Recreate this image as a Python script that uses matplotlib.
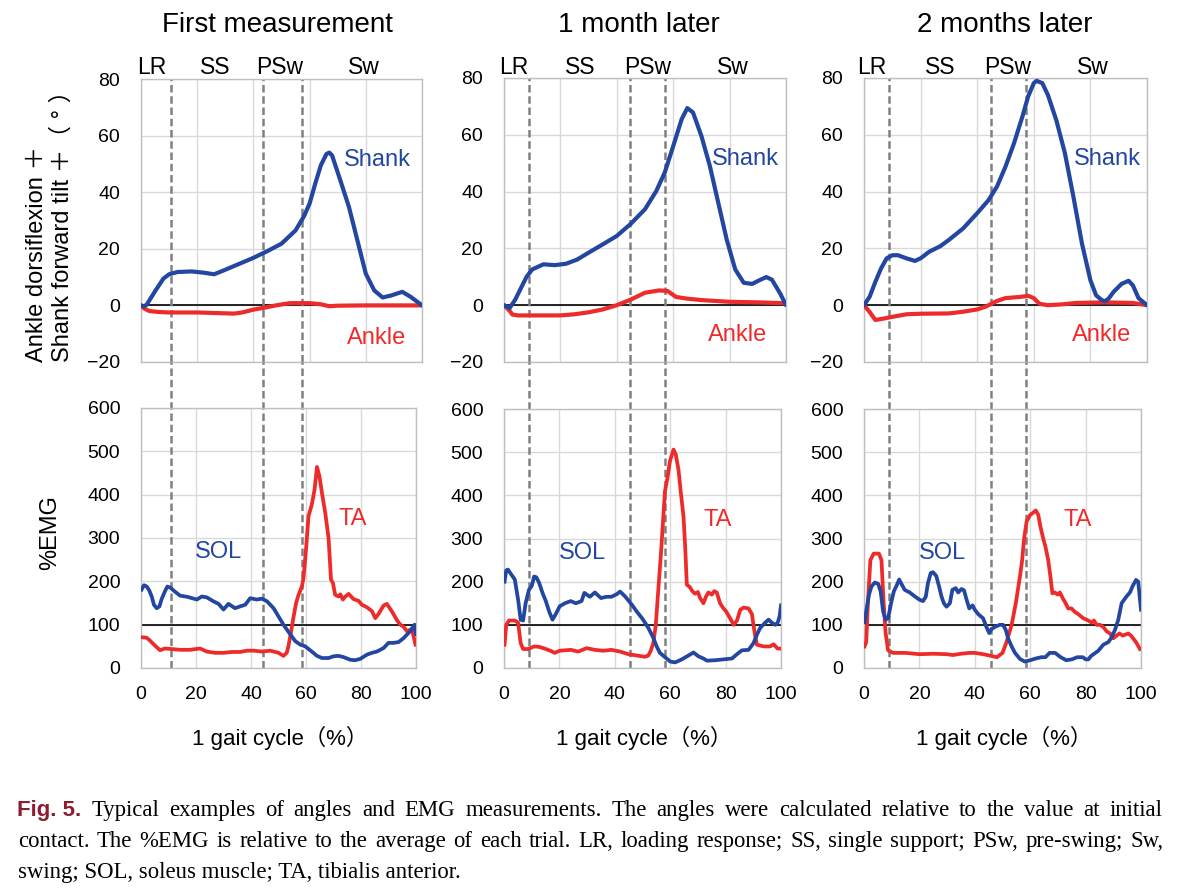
import matplotlib
matplotlib.use('Agg')
import matplotlib.pyplot as plt
import matplotlib.transforms as mtransforms
from matplotlib.lines import Line2D

# ---------------- DATA ----------------
titles = ["First measurement", "1 month later", "2 months later"]
phase_names = ["LR", "SS", "PSw", "Sw"]
# phase boundaries (% gait cycle)
phase_bounds = [[10.9, 44.4, 58.5], [9.0, 45.5, 58.1], [9.0, 45.8, 58.5]]

angle_ticks = [-20, 0, 20, 40, 60, 80]
emg_ticks = [0, 100, 200, 300, 400, 500, 600]
x_ticks = [0, 20, 40, 60, 80, 100]

# Shank forward tilt (deg)
shank1_x = [0, 1, 2, 5, 8, 10, 13, 18, 22, 26, 30, 35, 40, 45, 50, 55, 58, 60, 62, 64, 66, 67, 68, 71, 74, 77, 80, 83, 86, 89, 93, 96, 100]
shank1_y = [0, -0.3, 0.2, 5, 9.5, 11, 11.8, 12, 11.6, 11, 12.6, 14.7, 16.8, 19.2, 21.8, 26.5, 31.5, 36, 43, 49.5, 53.5, 54, 53, 44, 34.8, 23, 11.2, 5.3, 2.8, 3.5, 4.8, 3, 0]
shank2_x = [0, 2, 4, 6, 8, 10, 14, 18, 22, 26, 30, 35, 40, 45, 50, 54, 57, 60, 63, 65, 67, 70, 73, 76, 79, 82, 85, 88, 91, 93, 95, 98, 100]
shank2_y = [0, -1, 2, 6, 10, 12.6, 14.4, 14.1, 14.6, 16.1, 18.5, 21.4, 24.4, 28.7, 33.8, 40.2, 46.7, 56, 65.5, 69.4, 67.9, 59.6, 49, 36, 23, 12.6, 7.9, 7.5, 9, 9.9, 9, 4, 0]
shank3_x = [0, 2, 4, 6, 8, 10, 12, 15, 18, 20, 23, 27, 30, 35, 40, 44, 47, 50, 53, 56, 58, 60, 61, 63, 65, 68, 71, 74, 77, 80, 82, 84, 85.2, 86.5, 88.2, 91, 93.5, 95, 97, 100]
shank3_y = [0, 3, 8.2, 12.9, 16.5, 17.6, 17.6, 16.5, 15.6, 16.5, 18.8, 20.8, 23, 27, 32.4, 37, 41.8, 48.8, 57, 66.5, 73.5, 78.2, 79, 78.2, 74, 65, 53.5, 38.2, 21.8, 8.8, 3.5, 1.8, 1.4, 2.4, 4.7, 7.5, 8.6, 7, 2.5, 0]

# Ankle dorsiflexion (deg)
ankle1_x = [0, 1, 3, 6, 10, 20, 30, 33, 36, 40, 44, 48, 53, 57, 60, 64, 67, 70, 80, 90, 100]
ankle1_y = [0, -1, -2, -2.3, -2.5, -2.5, -2.8, -2.9, -2.5, -1.5, -0.8, 0, 0.8, 0.8, 0.8, 0.4, -0.3, -0.1, 0, 0, 0]
ankle2_x = [0, 2, 3, 5, 20, 25, 30, 35, 40, 45, 50, 55, 58, 61, 65, 70, 80, 90, 100]
ankle2_y = [0, -2, -3.3, -3.6, -3.6, -3.2, -2.5, -1.5, 0, 2, 4.4, 5.2, 5, 2.9, 2.3, 1.8, 1.2, 1, 0.7]
ankle3_x = [0, 2, 4, 7, 10, 15, 20, 30, 35, 40, 43, 47, 50, 55, 58, 60, 62, 65, 70, 75, 85, 95, 100]
ankle3_y = [0, -2.4, -5.2, -4.7, -4.1, -3.2, -3, -2.9, -2.3, -1.5, -0.5, 1.5, 2.5, 2.9, 3.3, 2.5, 0.5, 0, 0.3, 0.8, 1, 0.8, 0]

# %EMG soleus (SOL)
sol1_x = [0.2, 1.1, 2.1, 3, 3.9, 4.7, 5.7, 6.7, 7.5, 8.7, 9.6, 10.8, 11.8, 14.2, 17, 20.3, 22.1, 23.9, 26.3, 28.2, 30, 31.8, 34.2, 36, 37.9, 39.7, 42.1, 43.9, 45.8, 48.2, 50, 51.8, 53.9, 56.1, 57.9, 59.7, 62.1, 64, 65.8, 68.2, 70, 71.8, 73.7, 76.1, 77.9, 79.7, 82.2, 84, 85.8, 88.2, 90, 91.9, 93.7, 95.5, 97.9, 99.5, 100]
sol1_y = [181, 191, 188, 179, 165, 146, 138, 142, 159, 177, 188, 185, 179, 167, 164, 158, 165, 163, 154, 148, 135, 148, 138, 142, 146, 161, 158, 160, 154, 138, 119, 100, 81, 62, 54, 50, 38, 28, 23, 23, 27, 28, 25, 19, 18, 21, 31, 35, 38, 46, 58, 58, 60, 69, 85, 100, 78]
sol2_x = [0.2, 0.8, 1.4, 2.7, 3.9, 5.1, 6, 6.9, 7.8, 9, 10, 10.9, 11.7, 12.7, 13.9, 15.1, 16.3, 17.5, 18.7, 20.1, 22, 24.1, 25.9, 28, 29, 31, 32.8, 35, 37, 38.8, 40.7, 41.9, 43.7, 46.1, 47.9, 50.1, 52.1, 53.9, 55.1, 56.3, 58.5, 60, 61.8, 64.2, 66.6, 68.4, 70.2, 72, 73.2, 76.2, 79.3, 82.3, 84.1, 85.9, 88.3, 90.1, 91.3, 92.5, 94.3, 95.5, 96.7, 98, 98.8, 99.5, 100]
sol2_y = [200, 226, 228, 216, 205, 158, 112, 110, 150, 181, 190, 212, 210, 197, 174, 155, 131, 112, 125, 143, 150, 155, 150, 155, 174, 165, 175, 162, 165, 165, 171, 177, 166, 147, 131, 113, 93, 70, 50, 35, 23, 15, 13, 20, 29, 36, 27, 22, 17, 18, 20, 22, 32, 41, 42, 58, 77, 93, 105, 112, 105, 100, 105, 120, 145]
sol3_x = [0.2, 0.8, 1.8, 2.7, 3.9, 5.1, 6, 6.9, 7.8, 8.7, 9.9, 10.8, 11.7, 12.7, 13.5, 14.7, 16.5, 18.3, 20.1, 21.3, 22.3, 23.1, 24.1, 24.9, 26.1, 27.1, 28, 28.9, 29.8, 31, 31.9, 33.1, 34, 35.2, 36.1, 37, 38, 39.2, 40, 41.2, 43, 44.2, 45.2, 46, 47.2, 49, 50.2, 51.2, 52, 53.3, 54.5, 56.3, 58, 60, 62, 64, 65.5, 67, 69, 71, 73, 75, 77, 79, 80, 81, 82, 84.6, 86.4, 88.2, 89.2, 90.6, 91.8, 93, 94.8, 96, 97, 98.2, 99, 99.6, 100]
sol3_y = [106, 131, 170, 189, 198, 195, 178, 131, 112, 115, 154, 178, 190, 205, 195, 181, 175, 166, 158, 155, 165, 197, 220, 222, 213, 189, 165, 149, 142, 150, 181, 185, 175, 183, 180, 159, 138, 145, 135, 125, 115, 95, 81, 90, 95, 100, 100, 88, 69, 50, 35, 21, 15, 18, 22, 25, 25, 35, 35, 25, 18, 20, 25, 25, 20, 20, 28, 40, 54, 60, 69, 88, 112, 150, 166, 175, 190, 204, 200, 160, 135]

# %EMG tibialis anterior (TA)
ta1_x = [0.2, 2, 3, 4.7, 6.9, 8.7, 10.8, 14.2, 17.8, 21.5, 23.9, 26.9, 30, 33, 36, 38.5, 40.9, 43.9, 47, 50, 51.8, 53, 53.6, 54.5, 55.5, 56.4, 57.3, 58.5, 59.1, 60.1, 60.9, 62.1, 63.1, 64, 64.9, 65.8, 67, 68.2, 69.1, 69.8, 70.6, 71.8, 72.5, 73.4, 74.3, 75.5, 77.3, 79.1, 80.3, 82.2, 84, 85.2, 86.4, 88.2, 89.4, 91.3, 93.1, 94.3, 95.5, 96.7, 98.5, 99.8]
ta1_y = [71, 70, 65, 54, 41, 45, 44, 42, 42, 45, 38, 35, 35, 37, 37, 40, 40, 38, 40, 35, 28, 35, 50, 81, 119, 150, 169, 188, 208, 281, 350, 377, 411, 464, 442, 404, 358, 300, 204, 196, 169, 165, 170, 158, 165, 171, 159, 155, 146, 140, 131, 115, 125, 144, 148, 130, 110, 100, 95, 85, 90, 54]
ta2_x = [0.2, 0.8, 1.8, 3.9, 5.1, 6, 6.9, 8.7, 10.9, 12.7, 15.1, 17.1, 18.3, 20.1, 24.1, 26.8, 29.8, 32.8, 35.8, 38.8, 41.9, 44.9, 47.9, 50.9, 52.1, 53, 53.9, 54.8, 55.7, 56.6, 57.3, 58.1, 59, 59.9, 61.2, 62, 63, 63.8, 64.8, 65.4, 66, 67, 68, 69, 70, 70.8, 72, 72.9, 73.8, 75, 75.9, 76.8, 78, 79, 80.2, 81.9, 82.9, 84.1, 85.3, 86.5, 88.3, 89.5, 90.5, 91.3, 93.7, 96.1, 97.3, 98.8, 100]
ta2_y = [54, 100, 110, 110, 105, 58, 44, 44, 50, 49, 44, 39, 35, 40, 42, 38, 46, 42, 40, 42, 38, 32, 29, 26, 29, 40, 58, 100, 181, 259, 328, 409, 440, 479, 506, 495, 459, 409, 351, 282, 193, 188, 178, 172, 176, 162, 150, 165, 175, 170, 178, 175, 150, 140, 131, 112, 100, 110, 135, 140, 138, 125, 81, 54, 50, 50, 55, 45, 45]
ta3_x = [0.2, 0.8, 1.4, 2.3, 3.5, 5.4, 6.3, 7.1, 7.8, 8.7, 10.5, 15, 20, 25, 30, 32, 35, 38, 40, 43, 46, 48, 50, 51.4, 53.3, 54.8, 56.3, 57.1, 57.8, 58.7, 59.9, 61.1, 62, 62.9, 63.7, 64.7, 65.5, 66.5, 67.3, 68, 68.9, 69.9, 70.7, 71.9, 72.8, 73.7, 74.9, 76.1, 77.1, 79.2, 81, 82.2, 83, 84, 85.2, 86.4, 87.6, 88.8, 90, 91.2, 92.2, 93.4, 95.4, 96.4, 98.2, 99.6]
ta3_y = [50, 60, 150, 250, 265, 265, 250, 150, 81, 41, 35, 35, 32, 33, 32, 30, 33, 35, 35, 32, 28, 25, 35, 59, 100, 150, 212, 250, 300, 339, 354, 360, 365, 355, 327, 300, 281, 250, 212, 173, 175, 170, 175, 160, 150, 138, 138, 130, 126, 115, 110, 105, 110, 100, 100, 95, 85, 80, 69, 75, 80, 75, 80, 75, 60, 44]

shank = [(shank1_x, shank1_y), (shank2_x, shank2_y), (shank3_x, shank3_y)]
ankle = [(ankle1_x, ankle1_y), (ankle2_x, ankle2_y), (ankle3_x, ankle3_y)]
sol = [(sol1_x, sol1_y), (sol2_x, sol2_y), (sol3_x, sol3_y)]
ta = [(ta1_x, ta1_y), (ta2_x, ta2_y), (ta3_x, ta3_y)]

caption_line1 = "Typical examples of angles and EMG measurements. The angles were calculated relative to the value at initial"
caption_line2 = "contact. The %EMG is relative to the average of each trial. LR, loading response; SS, single support; PSw, pre-swing; Sw,"
caption_line3 = "swing; SOL, soleus muscle; TA, tibialis anterior."

# ---------------- STYLE / LAYOUT ----------------
W, H, DPI = 1180, 894, 100
plt.rcParams['font.family'] = ['Liberation Sans', 'Noto Sans CJK JP', 'DejaVu Sans']
BLUE = '#2346A0'
RED = '#EE2B2B'
GRID = '#D9D9D9'
SPINE = '#BFBFBF'
DASH = '#808080'

fig = plt.figure(figsize=(W / DPI, H / DPI), dpi=DPI)

def fbox(l, t, r, b):
    return [l / W, 1 - b / H, (r - l) / W, (b - t) / H]

top_boxes = [(141, 79, 422, 362), (504, 78, 786, 362), (864, 78, 1147, 362)]
bot_boxes = [(141, 408, 416, 668), (504, 409, 781, 668), (864, 409, 1141, 668)]
title_cx = [277, 639, 1005]
phase_cx = [[152, 215, 280, 364], [514, 580, 648, 733], [872, 940, 1008, 1093]]

def style_axes(ax):
    for s in ax.spines.values():
        s.set_color(SPINE)
        s.set_linewidth(1.0)
    ax.grid(True, color=GRID, lw=1.0, zorder=0)
    ax.set_axisbelow(True)
    ax.tick_params(length=0, labelsize=14, pad=15, colors='black')

for i in range(3):
    axt = fig.add_axes(fbox(*top_boxes[i]))
    axb = fig.add_axes(fbox(*bot_boxes[i]))
    for ax in (axt, axb):
        style_axes(ax)
        ax.set_xlim(0, 100)
        ax.set_xticks(x_ticks)
    axt.set_ylim(-20, 80)
    axt.set_yticks(angle_ticks)
    axt.tick_params(labelbottom=False)
    axb.set_ylim(0, 600)
    axb.set_yticks(emg_ticks)
    axb.tick_params(axis='x', pad=13)

    axt.axhline(0, color='black', lw=1.2, zorder=2)
    axb.axhline(100, color='black', lw=1.2, zorder=2)

    axt.plot(*shank[i], color=BLUE, lw=3.0, zorder=4, solid_capstyle='round', solid_joinstyle='round')
    axt.plot(*ankle[i], color=RED, lw=3.0, zorder=3, solid_capstyle='round', solid_joinstyle='round')
    axb.plot(*ta[i], color=RED, lw=2.7, zorder=3, solid_joinstyle='round')
    axb.plot(*sol[i], color=BLUE, lw=2.7, zorder=4, solid_joinstyle='round')

    lab_sx = [84, 85.5, 86][i]
    axt.text(lab_sx, 51.5, 'Shank', color=BLUE, fontsize=17, ha='center', va='center')
    axt.text([84, 83, 84][i], -10.5 if i else -11.5, 'Ankle', color=RED, fontsize=17, ha='center', va='center')
    axb.text(28.3, 267, 'SOL', color=BLUE, fontsize=17, ha='center', va='center')
    axb.text(77, 343, 'TA', color=RED, fontsize=17, ha='center', va='center')

    # phase boundary dashed lines spanning both panels
    gap = (bot_boxes[i][1] - top_boxes[i][3]) / (bot_boxes[i][3] - bot_boxes[i][1])
    for xb in phase_bounds[i]:
        trb = mtransforms.blended_transform_factory(axb.transData, axb.transAxes)
        trt = mtransforms.blended_transform_factory(axb.transData, axt.transAxes)
        axb.add_line(Line2D([xb, xb], [0, 1 + gap], transform=trb, color=DASH, lw=1.8,
                            dashes=(3, 1.5), clip_on=False, zorder=2.5))
        axt.add_line(Line2D([xb, xb], [0, 1], transform=trt, color=DASH, lw=1.8,
                            dashes=(3, 1.5), clip_on=False, zorder=2.5))

    fig.text(title_cx[i] / W, 1 - 25 / H, titles[i], fontsize=20, ha='center', va='center')
    for name, cx in zip(phase_names, phase_cx[i]):
        fig.text(cx / W, 1 - 67 / H, name, fontsize=16.5, ha='center', va='center')
    bcx = (bot_boxes[i][0] + bot_boxes[i][2]) / 2 + 2
    fig.text(bcx / W, 1 - 738 / H, '1 gait cycle（%）', fontsize=16, ha='center', va='center')

fig.text(50 / W, 1 - 362 / H, 'Ankle dorsiflexion ＋\nShank forward tilt ＋（ ° ）', rotation=90,
         ha='center', va='bottom', multialignment='left', fontsize=17, linespacing=1.2)
fig.text(50 / W, 1 - 533 / H, '%EMG', rotation=90, ha='center', va='center', fontsize=17)

# ---------------- CAPTION (justified) ----------------
renderer = fig.canvas.get_renderer()
serif = dict(family=['Liberation Serif', 'DejaVu Serif'], fontsize=16.4, color='black')
figsty = dict(family=['Liberation Sans Narrow', 'Liberation Sans'], fontsize=16, fontweight='bold', color='#8C1D2E')

def place_line(tokens, y_base, x0, x1):
    texts = [fig.text(0, 1 - y_base / H, s, ha='left', va='baseline', **sty) for s, sty in tokens]
    widths = [t.get_window_extent(renderer).width for t in texts]
    g = (x1 - x0 - sum(widths)) / (len(texts) - 1)
    x = x0
    for t, w in zip(texts, widths):
        t.set_x(x / W)
        x += w + g

place_line([("Fig. 5.", figsty)] + [(w, serif) for w in caption_line1.split()], 816, 17, 1163)
place_line([(w, serif) for w in caption_line2.split()], 847, 18, 1163)
fig.text(18 / W, 1 - 878 / H, caption_line3, ha='left', va='baseline', **serif)

fig.savefig('out.png', dpi=DPI, facecolor='white')
